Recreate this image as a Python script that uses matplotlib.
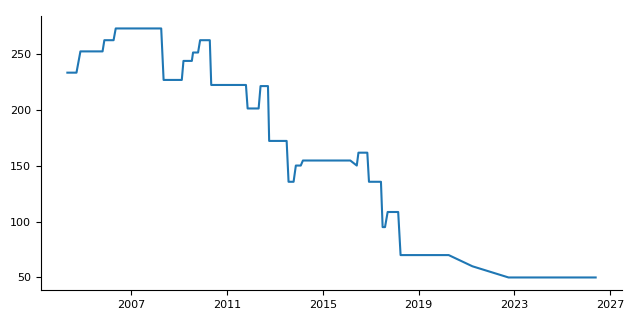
import matplotlib
matplotlib.use("Agg")
import matplotlib.pyplot as plt

# points (decimal years)
years = [2004.33, 2004.71, 2004.875, 2005.8, 2005.875, 2006.26, 2006.35, 2008.25,
         2008.35, 2009.11, 2009.18, 2009.53, 2009.58, 2009.79, 2009.875, 2010.28,
         2010.34, 2011.79, 2011.86, 2012.32, 2012.4, 2012.71, 2012.76, 2013.49,
         2013.57, 2013.78, 2013.875, 2014.08, 2014.17, 2016.15, 2016.42, 2016.49,
         2016.86, 2016.93, 2017.43, 2017.5, 2017.6, 2017.71, 2018.15, 2018.25,
         2020.26, 2021.25, 2022.76, 2026.4]
values = [233, 233, 252, 252, 262, 262, 272.5, 272.5,
          226.5, 226.5, 243.5, 243.5, 251, 251, 262, 262,
          222, 222, 201, 201, 221, 221, 172, 172,
          135.5, 135.5, 150, 150, 154.5, 154.5, 150, 161.5,
          161.5, 135.5, 135.5, 95, 95, 108.5, 108.5, 70,
          70, 60, 50, 50]
xticks = [2007, 2011, 2015, 2019, 2023, 2027]

fig, ax = plt.subplots(figsize=(6.4, 3.2), dpi=100)
ax.plot(years, values, color="tab:blue", linewidth=1.5)
ax.set_xticks(xticks)
ax.set_xticklabels([str(t) for t in xticks])
ax.spines["top"].set_visible(False)
ax.spines["right"].set_visible(False)
ax.tick_params(labelsize=8)
fig.subplots_adjust(left=0.064, right=0.972, top=0.95, bottom=0.094)
fig.savefig("out.png")
